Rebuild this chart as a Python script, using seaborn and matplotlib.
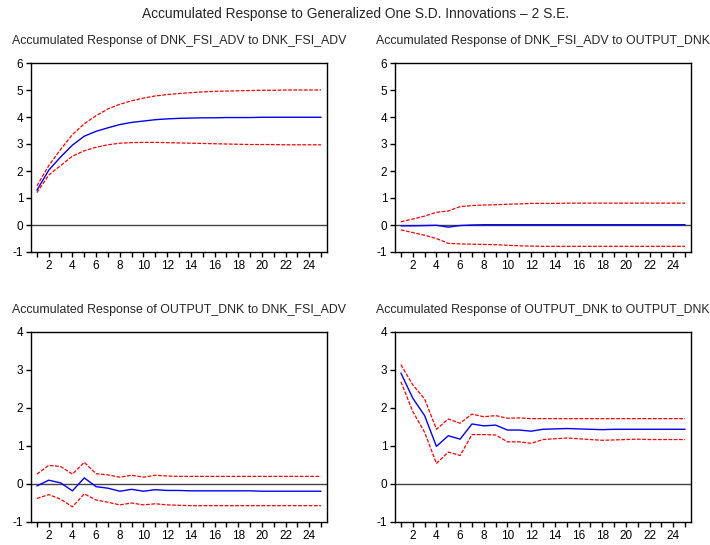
import matplotlib
matplotlib.use("Agg")
import matplotlib.pyplot as plt
import seaborn as sns
import numpy as np
import pandas as pd

# Response horizon (periods)
periods = list(range(1, 26))

# DNK_FSI_ADV response to DNK_FSI_ADV shock
fsi_fsi_mid = [1.29, 2.03, 2.52, 2.96, 3.29, 3.47, 3.60, 3.72, 3.80, 3.85, 3.90, 3.93, 3.95,
               3.96, 3.97, 3.97, 3.98, 3.98, 3.98, 3.99, 3.99, 3.99, 3.99, 3.99, 3.99]
fsi_fsi_hi = [1.45, 2.20, 2.80, 3.35, 3.75, 4.05, 4.30, 4.47, 4.60, 4.70, 4.78, 4.83, 4.87,
              4.90, 4.93, 4.95, 4.96, 4.97, 4.98, 4.99, 4.99, 5.00, 5.00, 5.00, 5.00]
fsi_fsi_lo = [1.20, 1.85, 2.20, 2.55, 2.75, 2.88, 2.97, 3.03, 3.05, 3.06, 3.06, 3.05, 3.04,
              3.03, 3.02, 3.01, 3.00, 2.99, 2.98, 2.98, 2.98, 2.97, 2.97, 2.97, 2.97]

# DNK_FSI_ADV response to OUTPUT_DNK shock
fsi_out_mid = [-0.03, -0.03, -0.02, -0.01, -0.08, -0.02, 0.00, 0.01, 0.01, 0.01, 0.01, 0.01, 0.01,
               0.01, 0.01, 0.01, 0.01, 0.01, 0.01, 0.01, 0.01, 0.01, 0.01, 0.01, 0.01]
fsi_out_hi = [0.12, 0.22, 0.33, 0.47, 0.52, 0.68, 0.72, 0.74, 0.75, 0.77, 0.78, 0.80, 0.80,
              0.80, 0.81, 0.81, 0.81, 0.81, 0.81, 0.81, 0.81, 0.81, 0.81, 0.81, 0.81]
fsi_out_lo = [-0.18, -0.28, -0.38, -0.50, -0.68, -0.70, -0.71, -0.72, -0.73, -0.75, -0.77, -0.78, -0.79,
              -0.79, -0.79, -0.79, -0.79, -0.79, -0.79, -0.79, -0.79, -0.79, -0.79, -0.79, -0.79]

# OUTPUT_DNK response to DNK_FSI_ADV shock
out_fsi_mid = [-0.05, 0.10, 0.03, -0.18, 0.16, -0.07, -0.11, -0.19, -0.14, -0.19, -0.15, -0.17, -0.17,
               -0.18, -0.18, -0.18, -0.18, -0.18, -0.18, -0.19, -0.19, -0.19, -0.19, -0.19, -0.19]
out_fsi_hi = [0.26, 0.49, 0.46, 0.26, 0.57, 0.27, 0.24, 0.18, 0.23, 0.18, 0.23, 0.21, 0.20,
              0.20, 0.20, 0.20, 0.20, 0.20, 0.20, 0.20, 0.20, 0.20, 0.20, 0.20, 0.20]
out_fsi_lo = [-0.38, -0.28, -0.40, -0.60, -0.26, -0.42, -0.48, -0.55, -0.50, -0.55, -0.52, -0.55, -0.56,
              -0.57, -0.57, -0.57, -0.57, -0.57, -0.57, -0.57, -0.57, -0.57, -0.57, -0.57, -0.57]

# OUTPUT_DNK response to OUTPUT_DNK shock
out_out_mid = [2.92, 2.26, 1.80, 0.99, 1.27, 1.18, 1.58, 1.53, 1.55, 1.42, 1.42, 1.39, 1.44,
               1.45, 1.46, 1.45, 1.44, 1.43, 1.44, 1.44, 1.44, 1.44, 1.44, 1.44, 1.44]
out_out_hi = [3.14, 2.61, 2.24, 1.44, 1.71, 1.60, 1.84, 1.77, 1.80, 1.73, 1.74, 1.72, 1.72,
              1.72, 1.72, 1.72, 1.72, 1.72, 1.72, 1.72, 1.72, 1.72, 1.72, 1.72, 1.72]
out_out_lo = [2.69, 1.91, 1.36, 0.54, 0.84, 0.75, 1.30, 1.30, 1.29, 1.11, 1.11, 1.07, 1.17,
              1.19, 1.21, 1.19, 1.17, 1.15, 1.16, 1.17, 1.18, 1.17, 1.17, 1.17, 1.17]

panel_titles = [
    "Accumulated Response of DNK_FSI_ADV to DNK_FSI_ADV",
    "Accumulated Response of DNK_FSI_ADV to OUTPUT_DNK",
    "Accumulated Response of OUTPUT_DNK to DNK_FSI_ADV",
    "Accumulated Response of OUTPUT_DNK to OUTPUT_DNK",
]
main_title = "Accumulated Response to Generalized One S.D. Innovations \u2013 2 S.E."

sns.set_style("ticks")
plt.rcParams["font.family"] = ["Liberation Sans", "DejaVu Sans"]
plt.rcParams["axes.unicode_minus"] = False

fig = plt.figure(figsize=(7.1, 5.45), dpi=100)
W, H = 710.0, 545.0

def frame(l, t, r, b):
    return [l / W, 1 - b / H, (r - l) / W, (b - t) / H]

rects = [frame(31, 63, 327, 252), frame(395, 63, 691, 252),
         frame(31, 332, 327, 522), frame(395, 332, 691, 522)]
series = [
    (fsi_fsi_mid, fsi_fsi_hi, fsi_fsi_lo, (-1, 6)),
    (fsi_out_mid, fsi_out_hi, fsi_out_lo, (-1, 6)),
    (out_fsi_mid, out_fsi_hi, out_fsi_lo, (-1, 4)),
    (out_out_mid, out_out_hi, out_out_lo, (-1, 4)),
]

for rect, (mid, hi, lo, ylim), title in zip(rects, series, panel_titles):
    ax = fig.add_axes(rect)
    df = pd.DataFrame({"period": periods, "mid": mid, "hi": hi, "lo": lo})
    ax.axhline(0, color="#444444", lw=1.0, zorder=1)
    sns.lineplot(data=df, x="period", y="hi", ax=ax, color="#ff0000", lw=0.9,
                 linestyle=(0, (3, 1.2)), zorder=3)
    sns.lineplot(data=df, x="period", y="lo", ax=ax, color="#ff0000", lw=0.9,
                 linestyle=(0, (3, 1.2)), zorder=3)
    sns.lineplot(data=df, x="period", y="mid", ax=ax, color="#0000ff", lw=1.0, zorder=4)
    ax.set_xlim(0.5, 25.5)
    ax.set_ylim(*ylim)
    ax.set_xticks(periods)
    ax.set_xticklabels([str(p) if p % 2 == 0 else "" for p in periods])
    ax.set_yticks(range(ylim[0], ylim[1] + 1))
    ax.set_xlabel("")
    ax.set_ylabel("")
    for s in ax.spines.values():
        s.set_linewidth(1.0)
        s.set_color("black")
    ax.tick_params(axis="both", direction="out", length=3.5, width=1.0,
                   labelsize=8.5, colors="black", pad=2)
    ax.set_title(title, fontsize=8.9, pad=14)

fig.text(0.5, 1 - 14 / H, main_title, ha="center", va="center", fontsize=9.9)

fig.savefig("out.png", dpi=100)
